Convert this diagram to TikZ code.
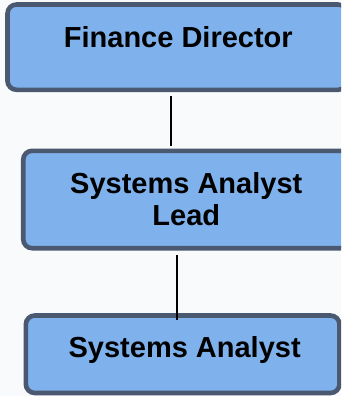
\documentclass[tikz,border=0pt]{standalone}
\usepackage{fontspec}
\setmainfont{Liberation Sans}
\definecolor{bgcol}{HTML}{F8FAFB}
\definecolor{boxfill}{HTML}{7FB2EC}
\definecolor{boxline}{HTML}{4A5870}
\begin{document}
\begin{tikzpicture}[x=1pt,y=-1pt,
  box/.style={draw=boxline, fill=boxfill, line width=4.6pt, rounded corners=9pt, inner sep=0pt},
  lbl/.style={font=\fontsize{29}{32.5}\selectfont\bfseries, text=black, inner sep=0pt, align=center},
  conn/.style={draw=black, line width=2.2pt}]
\useasboundingbox (0,0) rectangle (341,396);
\fill[bgcol] (0,0) rectangle (341,396);
\clip (0,0) rectangle (341,396);
\node[box, minimum width=339.5pt, minimum height=85.3pt] (b1) at (177.25,47.15) {};
\node[box, minimum width=326.2pt, minimum height=97.4pt] (b2) at (186.3,199.5) {};
\node[box, minimum width=313.7pt, minimum height=77.5pt] (b3) at (182.65,354.25) {};
\coordinate (c1) at (170.7,0);
\coordinate (c2) at (176.8,0);
\draw[conn, shorten <=4.2pt, shorten >=2.5pt] (b1.south -| c1) -- (b2.north -| c1);
\draw[conn, shorten <=4.8pt, shorten >=-6.5pt] (b2.south -| c2) -- (b3.north -| c2);
\node[lbl, anchor=base] (t1) at (178.3,47.3) {Finance Director};
\node[lbl, anchor=base] (t2) at (186.3,225.7) {Systems Analyst\\Lead};
\node[lbl, anchor=base] (t3) at (184.7,357.3) {Systems Analyst};
\end{tikzpicture}
\end{document}
